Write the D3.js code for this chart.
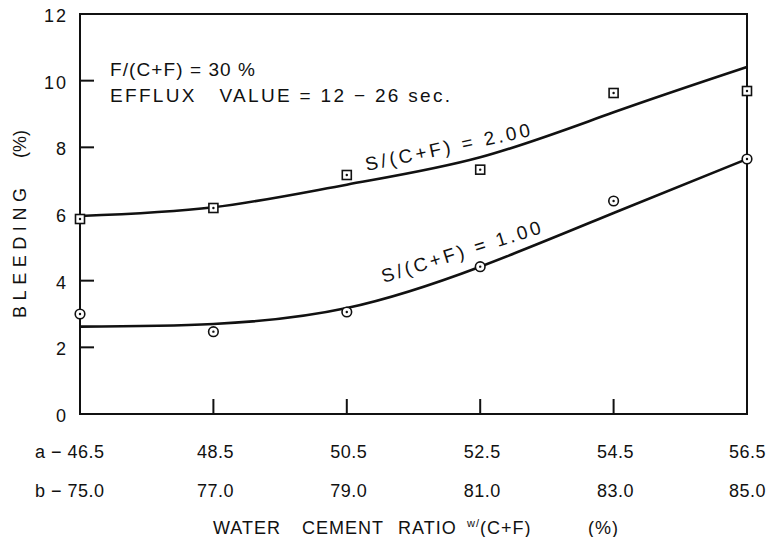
<!DOCTYPE html>
<html>
<head>
<meta charset="utf-8">
<script src="https://cdn.jsdelivr.net/npm/d3@7"></script>
<style>
  html, body { margin: 0; padding: 0; background: #fff; }
  svg { display: block; }
  text { font-family: "Liberation Sans", Arial, sans-serif; fill: #111; }
</style>
</head>
<body>
<div id="chart"></div>
<script>
// Water/cement ratio categories (two equivalent scales a and b)
const ratioA = [46.5, 48.5, 50.5, 52.5, 54.5, 56.5];
const ratioB = ["75.0", "77.0", "79.0", "81.0", "83.0", "85.0"];
const ratioALabels = ["46.5", "48.5", "50.5", "52.5", "54.5", "56.5"];

// Measured bleeding (%)
const bleedS200 = [5.85, 6.18, 7.17, 7.33, 9.63, 9.69];   // S/(C+F) = 2.00, squares
const bleedS100 = [3.0, 2.47, 3.06, 4.42, 6.39, 7.65];    // S/(C+F) = 1.00, circles

// Fitted trend curves (%), at each ratio
const fitS200 = [5.94, 6.2, 6.88, 7.7, 9.05, 10.41];
const fitS100 = [2.62, 2.7, 3.18, 4.42, 6.03, 7.65];

const yTicks = [0, 2, 4, 6, 8, 10, 12];
const yTickMarks = [2, 4, 8, 10];

const W = 767, H = 537;
const svg = d3.select("#chart").append("svg").attr("width", W).attr("height", H);

const x = d3.scaleLinear().domain([46.5, 56.5]).range([80, 747]);
const y = d3.scaleLinear().domain([0, 12]).range([414, 14]);

const ink = "#111";

// Frame
svg.append("rect")
  .attr("x", x(46.5)).attr("y", y(12))
  .attr("width", x(56.5) - x(46.5)).attr("height", y(0) - y(12))
  .attr("fill", "none").attr("stroke", ink).attr("stroke-width", 2);

// Left axis tick marks (inside)
svg.selectAll(".ytick").data(yTickMarks).join("line")
  .attr("x1", x(46.5)).attr("x2", x(46.5) + 14)
  .attr("y1", d => y(d)).attr("y2", d => y(d))
  .attr("stroke", ink).attr("stroke-width", 2);

// Bottom axis tick marks (inside)
svg.selectAll(".xtick").data(ratioA.slice(1, 5)).join("line")
  .attr("x1", d => x(d)).attr("x2", d => x(d))
  .attr("y1", y(0)).attr("y2", y(0) - 15)
  .attr("stroke", ink).attr("stroke-width", 2);

// Y tick labels
svg.selectAll(".ylab").data(yTicks).join("text")
  .attr("x", x(46.5) - 12).attr("y", d => y(d) + 8)
  .attr("text-anchor", "end")
  .attr("font-size", 18).attr("letter-spacing", 2)
  .text(d => d);

// X tick labels, row a and row b (last column kept inside the page edge)
const lastIdx = ratioA.length - 1;
function placeLabels(cls, rowY, labels) {
  svg.selectAll("." + cls).data(ratioA.slice(1)).join("text")
    .attr("x", (d, i) => i + 1 === lastIdx ? W - 1 : x(d) + 2)
    .attr("y", rowY)
    .attr("text-anchor", (d, i) => i + 1 === lastIdx ? "end" : "middle")
    .attr("font-size", 18).attr("letter-spacing", 0.5)
    .text((d, i) => labels[i + 1]);
}
placeLabels("xlabA", 458, ratioALabels);
placeLabels("xlabB", 497, ratioB);
svg.append("text")
  .attr("x", x(46.5) - 45).attr("y", 458)
  .attr("font-size", 18).attr("letter-spacing", 0.5)
  .text("a − " + ratioALabels[0]);
svg.append("text")
  .attr("x", x(46.5) - 45).attr("y", 497)
  .attr("font-size", 18).attr("letter-spacing", 0.5)
  .text("b − " + ratioB[0]);

// X axis title
const xt = svg.append("text").attr("y", 534).attr("font-size", 18).attr("letter-spacing", 1);
xt.append("tspan").attr("x", 213).text("WATER");
xt.append("tspan").attr("x", 302).text("CEMENT");
xt.append("tspan").attr("x", 398).text("RATIO");
xt.append("tspan").attr("x", 467).attr("dy", -7).attr("font-size", 11).text("w/");
xt.append("tspan").attr("dy", 7).text("(C+F)");
xt.append("tspan").attr("x", 588).text("(%)");

// Y axis title
svg.append("text")
  .attr("transform", "translate(26,318) rotate(-90)")
  .attr("font-size", 18).attr("textLength", 130).attr("lengthAdjust", "spacing")
  .text("BLEEDING");
svg.append("text")
  .attr("transform", "translate(26,158) rotate(-90)")
  .attr("font-size", 18)
  .text("(%)");

// Condition notes
svg.append("text")
  .attr("x", 110).attr("y", 76)
  .attr("font-size", 19).attr("textLength", 145).attr("lengthAdjust", "spacing")
  .text("F/(C+F) = 30 %");
svg.append("text")
  .attr("x", 110).attr("y", 102)
  .attr("font-size", 19).attr("textLength", 340).attr("lengthAdjust", "spacing")
  .text("EFFLUX\u00a0\u00a0\u00a0VALUE = 12 − 26 sec.");

// Trend curves
const line = d3.line().x((d, i) => x(ratioA[i])).y(d => y(d)).curve(d3.curveNatural);
[fitS200, fitS100].forEach(s => {
  svg.append("path").attr("d", line(s))
    .attr("fill", "none").attr("stroke", ink).attr("stroke-width", 2.6);
});

// Curve labels
svg.append("text")
  .attr("transform", `translate(${x(50.5) + 20},171) rotate(-12)`)
  .attr("font-size", 19).attr("textLength", 168).attr("lengthAdjust", "spacing")
  .text("S/(C+F) = 2.00");
svg.append("text")
  .attr("transform", `translate(${x(50.5) + 37},283) rotate(-17.5)`)
  .attr("font-size", 19).attr("textLength", 166).attr("lengthAdjust", "spacing")
  .text("S/(C+F) = 1.00");

// Square markers
const sq = svg.selectAll(".sq").data(bleedS200).join("g")
  .attr("transform", (d, i) => `translate(${x(ratioA[i])},${y(d)})`);
sq.append("rect").attr("x", -4.5).attr("y", -4.5).attr("width", 9).attr("height", 9)
  .attr("fill", "#fff").attr("stroke", ink).attr("stroke-width", 1.6);
sq.append("circle").attr("r", 1.2).attr("fill", ink);

// Circle markers
const ci = svg.selectAll(".ci").data(bleedS100).join("g")
  .attr("transform", (d, i) => `translate(${x(ratioA[i])},${y(d)})`);
ci.append("circle").attr("r", 4.8)
  .attr("fill", "#fff").attr("stroke", ink).attr("stroke-width", 1.6);
ci.append("circle").attr("r", 1.2).attr("fill", ink);
</script>
</body>
</html>
